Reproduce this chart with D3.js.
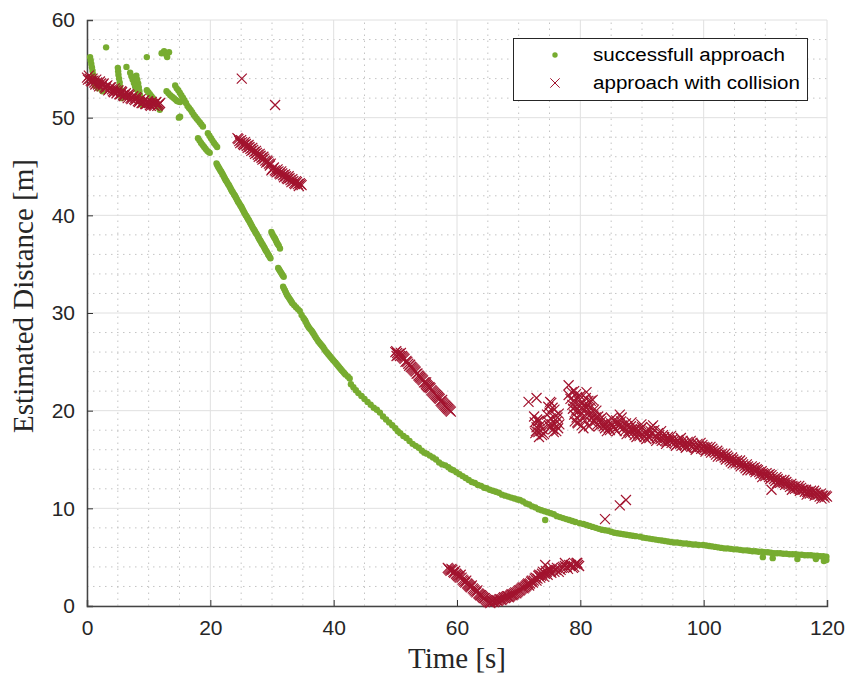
<!DOCTYPE html>
<html>
<head>
<meta charset="utf-8">
<script src="https://cdn.jsdelivr.net/npm/d3@7"></script>
<style>
  body { margin: 0; background: #fff; }
  svg { display: block; }
</style>
</head>
<body>
<div id="chart"></div>
<script>
// axis ticks
var xTicks = [0, 20, 40, 60, 80, 100, 120];
var yTicks = [0, 10, 20, 30, 40, 50, 60];

// successfull approach, [time s, distance m]
var okStart = [[0.5,56.2],[0.7,55.5],[0.9,54.8],[1.1,54.0],[1.3,53.3],[1.8,53.0],[2.5,52.7],[3.1,57.2],
  [5.0,55.1],[5.1,54.4],[5.3,53.6],[5.4,52.8],[5.6,52.0],[6.4,55.2],[7.0,54.6],[7.4,53.9],[7.8,53.2],[8.3,52.6],
  [8.0,54.3],[8.3,53.5],[8.5,52.7],[8.7,51.9],[8.9,51.3],[9.7,56.2],[9.7,52.8],[10.2,52.4],[10.7,52.0],[11.2,51.4],[11.8,50.8],
  [12.1,56.6],[12.5,56.8],[12.9,56.4],[13.3,56.7],[13.0,56.2],[12.9,52.7],[13.5,52.3],[14.1,52.0],[14.6,51.7],[15.1,51.6],
  [14.9,50.0],[15.1,50.1],[14.3,53.3],[14.8,52.8],[15.3,52.3],[15.8,51.8],[16.3,51.2],[16.8,50.8],[17.3,50.3],[17.8,49.9],
  [18.3,49.5],[18.8,49.1],[14.55,53.0],[15.05,52.55],[15.55,52.05],[16.05,51.5],[16.55,51.0],[17.05,50.55],[17.55,50.1],
  [18.05,49.7],[18.55,49.3],[0.6,55.85],[0.8,55.15],[1.0,54.4],[1.2,53.65],[5.05,54.75],[5.2,54.0],[5.35,53.2],[5.5,52.4],
  [7.2,54.25],[7.6,53.55],[8.05,52.9],[8.15,53.9],[8.4,53.1],[8.6,52.3],[8.8,51.6],[9.95,52.6],[10.45,52.2],[10.95,51.7],
  [11.5,51.1],[13.2,52.5],[13.8,52.15],[14.35,51.85],[14.85,51.65]];
var okDashes = [[18.0,47.9],[18.5,47.4],[19.0,47.0],[19.5,46.6],[19.9,46.4],[19.6,48.4],[20.1,47.9],[20.6,47.4],[21.1,47.0],
  [29.9,38.3],[30.2,37.9],[30.5,37.6],[30.8,37.2],[31.1,36.9],[31.3,36.6],[31.0,34.6],[31.3,34.3],[31.6,34.0],[31.9,33.7],
  [18.25,47.65],[18.75,47.2],[19.25,46.8],[19.7,46.5],[19.85,48.15],[20.35,47.65],[20.85,47.2],[30.05,38.1],[30.35,37.75],
  [30.65,37.4],[30.95,37.05],[31.15,34.45],[31.45,34.15],[31.75,33.85]];
var okSteep = [[21.0,45.3],[21.25,45.0],[21.5,44.75],[21.75,44.5],[22.0,44.2],[22.25,43.9],[22.5,43.6],[22.75,43.35],
  [23.0,43.1],[23.25,42.8],[23.5,42.5],[23.75,42.25],[24.0,42.0],[24.25,41.7],[24.5,41.4],[24.75,41.15],[25.0,40.9],
  [25.25,40.6],[25.5,40.3],[25.75,40.0],[26.0,39.75],[26.25,39.5],[26.5,39.2],[26.75,38.9],[27.0,38.6],[27.25,38.35],
  [27.5,38.1],[27.75,37.8],[28.0,37.5],[28.25,37.25],[28.5,37.0],[28.75,36.7],[29.0,36.4],[29.25,36.15],[29.5,35.9],[29.75,35.6],
  [21.12,45.15],[21.37,44.88],[21.62,44.6],[21.87,44.35],[22.12,44.05],[22.37,43.75],[22.62,43.5],[22.87,43.2],[23.12,42.95],
  [23.37,42.65],[23.62,42.4],[23.87,42.1],[24.12,41.85],[24.37,41.55],[24.62,41.3],[24.87,41.0],[25.12,40.75],[25.37,40.45],
  [25.62,40.15],[25.87,39.9],[26.12,39.6],[26.37,39.35],[26.62,39.05],[26.87,38.75],[27.12,38.5],[27.37,38.2],[27.62,37.95],
  [27.87,37.65],[28.12,37.4],[28.37,37.1],[28.62,36.85],[28.87,36.55],[29.12,36.3],[29.37,36.0],[29.62,35.75]];
var okMid = [[31.8,32.7],[32.1,32.3],[32.4,31.9],[32.7,31.6],[33.0,31.3],[33.3,31.0],[33.6,30.8],[33.9,30.6],[34.2,30.4],
  [34.5,30.2],[34.8,29.8],[35.1,29.5],[35.4,29.2],[35.7,28.8],[36.0,28.5],[36.4,28.2],[36.7,27.9],[37.1,27.5],[37.5,27.1],
  [37.9,26.8],[38.3,26.5],[38.7,26.1],[39.1,25.8],[39.5,25.5],[39.9,25.2],[40.3,24.9],[40.7,24.6],[41.1,24.3],[41.5,24.0],
  [41.9,23.7],[42.3,23.5],[42.6,23.3],[42.8,22.7],[43.2,22.4],[43.6,22.1],[44.0,21.8],[44.5,21.5],[45.0,21.2],[45.5,20.9],
  [46.0,20.6],[46.5,20.3],[47.0,20.1],[47.5,19.8],[48.0,19.4],[48.5,19.1],[49.0,18.8],[49.5,18.5],[50.0,18.2],[50.4,17.9],
  [50.8,17.7],[51.3,17.4],[51.8,17.2],[52.3,16.9],[52.8,16.6],[53.3,16.4],[53.8,16.2],[54.3,15.9],[54.7,15.7],[55.1,15.6],
  [55.6,15.4],[56.1,15.2],[56.6,15.0],[57.1,14.7],[57.6,14.5],[58.1,14.4],[58.6,14.2],[59.0,14.0],[59.4,13.9],[59.9,13.7],
  [60.4,13.5],[60.9,13.3],[61.4,13.1],[61.9,12.9],[62.4,12.7],[62.9,12.6],[63.4,12.4],[63.9,12.3],[64.4,12.1],[64.8,12.05],
  [65.3,11.9],[65.8,11.8],[66.3,11.7],[66.8,11.6],[67.3,11.4],[67.8,11.3],[68.3,11.2],[68.8,11.1],[69.3,11.0],[69.8,10.9],
  [31.95,32.5],[32.25,32.1],[32.55,31.75],[32.85,31.45],[33.15,31.15],[35.25,29.35],[35.55,29.0],[35.85,28.65],[36.2,28.35],
  [36.55,28.05],[36.9,27.7],[37.3,27.3],[37.7,26.95],[38.1,26.65],[38.5,26.3],[38.9,25.95],[39.3,25.65],[39.7,25.35],
  [40.1,25.05],[40.5,24.75],[40.9,24.45],[41.3,24.15],[41.7,23.85]];
var okTail = [[70.2,10.85],[70.7,10.7],[71.2,10.5],[71.7,10.4],[72.2,10.2],[72.7,10.1],[73.2,9.9],[73.7,9.8],[74.2,9.7],
  [74.7,9.6],[75.2,9.5],[75.7,9.4],[76.2,9.2],[76.7,9.1],[77.2,9.0],[77.7,8.9],[78.2,8.8],[78.7,8.7],[79.2,8.6],[79.9,8.47],
  [80.5,8.4],[81.0,8.3],[81.5,8.2],[82.0,8.1],[82.5,8.0],[83.0,7.9],[83.5,7.8],[84.0,7.75],[84.5,7.7],[85.0,7.6],[85.5,7.5],
  [86.0,7.45],[86.5,7.4],[87.0,7.35],[87.5,7.3],[88.0,7.25],[88.5,7.2],[89.0,7.15],[89.7,7.1],[90.2,7.0],[90.7,6.95],
  [91.2,6.9],[91.7,6.85],[92.2,6.8],[92.7,6.75],[93.2,6.7],[93.7,6.65],[94.2,6.6],[94.7,6.55],[95.2,6.5],[95.7,6.5],
  [96.2,6.45],[96.7,6.4],[97.2,6.4],[97.7,6.35],[98.2,6.3],[98.7,6.3],[99.2,6.25],[99.9,6.25],[100.4,6.2],[100.9,6.15],
  [101.4,6.1],[101.9,6.05],[102.4,6.0],[102.9,5.95],[103.4,5.9],[103.9,5.9],[104.4,5.85],[104.9,5.8],[105.4,5.8],
  [105.9,5.75],[106.4,5.7],[106.9,5.7],[107.4,5.65],[107.9,5.6],[108.4,5.6],[108.9,5.55],[109.4,5.55],[109.9,5.5],
  [110.4,5.5],[110.9,5.45],[111.4,5.4],[111.9,5.4],[112.4,5.4],[112.9,5.35],[113.4,5.35],[113.9,5.3],[114.4,5.3],
  [114.9,5.3],[115.4,5.25],[115.9,5.25],[116.4,5.2],[116.9,5.2],[117.4,5.2],[117.9,5.15],[118.4,5.15],[118.9,5.1],
  [119.4,5.1],[119.9,5.05]];
var okOutliers = [[74.3,8.8],[109.6,5.0],[111.2,4.9],[115.2,4.8],[118.2,4.8],[119.5,4.6],[119.9,4.7]];

// approach with collision, [time s, distance m]
var colStart = [[0.0,54.1],[0.3,54.3],[0.6,53.8],[0.9,54.0],[1.2,53.6],[1.5,53.9],[1.8,53.4],[2.1,53.7],[2.4,53.2],
  [2.7,53.5],[3.0,53.0],[3.3,53.3],[3.6,52.9],[3.9,53.1],[4.2,52.7],[4.5,53.0],[4.8,52.5],[5.1,52.8],[5.4,52.4],[5.7,52.6],
  [6.0,52.2],[6.3,52.5],[6.6,52.0],[6.9,52.3],[7.2,51.9],[7.5,52.2],[7.8,51.8],[8.1,52.0],[8.4,51.6],[8.7,51.9],[9.0,51.5],
  [9.3,51.8],[9.6,51.4],[9.9,51.7],[10.2,51.3],[10.5,51.6],[10.8,51.3],[11.1,51.5],[11.4,51.2],[11.7,51.4],
  [0.15,53.9],[0.45,54.0],[0.75,53.7],[1.05,53.8],[1.35,53.4],[1.65,53.6],[1.95,53.2],[2.25,53.5],[2.55,53.4],[2.85,53.1],
  [3.15,53.2],[3.45,52.8],[3.75,53.1],[4.05,52.9],[4.35,52.6],[4.65,52.8],[4.95,52.7],[5.25,52.4],[5.55,52.7],[5.85,52.3],
  [6.15,52.4],[6.45,52.2],[6.75,52.4],[7.05,52.0],[7.35,52.1],[7.65,51.9],[7.95,52.1],[8.25,51.7],[8.55,51.8],[8.85,51.5],
  [9.15,51.7],[9.45,51.4],[9.75,51.6],[10.05,51.5],[10.35,51.2],[10.65,51.4],[10.95,51.2],[11.25,51.6],[11.55,51.3],[11.85,51.5]];
var colLone = [[25.1,54.0],[30.5,51.3],[84.0,8.9],[86.4,10.3],[87.4,10.85],[111.0,11.9]];
var colBand25 = [[24.4,47.9],[24.7,47.6],[25.0,47.7],[25.3,47.3],[25.6,47.5],[25.9,47.1],[26.2,47.2],[26.5,46.8],
  [26.8,46.9],[27.1,46.5],[27.4,46.6],[27.7,46.2],[28.0,46.3],[28.3,45.9],[28.6,46.0],[28.9,45.6],[29.2,45.6],[29.5,45.3],
  [29.8,45.3],[30.0,44.7],[30.3,44.9],[30.6,44.5],[30.9,44.7],[31.2,44.3],[31.5,44.5],[31.8,44.1],[32.1,44.2],[32.4,43.8],
  [32.7,44.0],[33.0,43.6],[33.3,43.7],[33.6,43.3],[33.9,43.5],[34.2,43.2],[34.5,43.3],[34.8,43.1],
  [24.55,47.8],[24.85,47.4],[25.15,47.5],[25.45,47.2],[25.75,47.3],[26.05,46.9],[26.35,47.0],[26.65,46.6],[26.95,46.7],
  [27.25,46.3],[27.55,46.4],[27.85,46.0],[28.15,46.1],[28.45,45.7],[28.75,45.8],[29.05,45.4],[29.35,45.5],[29.65,45.1],
  [29.9,44.6],[30.15,44.8],[30.45,44.6],[30.75,44.4],[31.05,44.5],[31.35,44.2],[31.65,44.3],[31.95,43.9],[32.25,44.0],
  [32.55,43.7],[32.85,43.8],[33.15,43.4],[33.45,43.5],[33.75,43.2],[34.05,43.4],[34.35,43.0],[34.65,43.2]];
var colBand50 = [[50.0,26.0],[50.3,25.9],[50.6,25.8],[50.9,25.9],[51.2,25.5],[51.5,25.3],[51.8,25.1],[52.1,24.8],
  [52.4,24.7],[52.7,24.4],[53.0,24.2],[53.3,24.0],[53.6,23.8],[53.9,23.5],[54.2,23.3],[54.5,23.1],[54.8,22.9],[55.1,22.6],
  [55.4,22.4],[55.7,22.3],[56.0,22.0],[56.3,21.8],[56.6,21.6],[56.9,21.4],[57.2,21.2],[57.5,20.9],[57.8,20.7],[58.1,20.5],
  [58.4,20.3],[58.7,20.1],[59.0,19.9],[50.2,25.6],[55.0,22.9],[57.6,21.1],
  [50.15,26.1],[50.45,25.7],[50.75,25.6],[51.05,25.6],[51.35,25.4],[51.65,25.0],[51.95,25.0],[52.25,24.6],[52.55,24.5],
  [52.85,24.3],[53.15,24.1],[53.45,23.8],[53.75,23.6],[54.05,23.4],[54.35,23.2],[54.65,22.9],[54.95,22.7],[55.25,22.5],
  [55.55,22.4],[55.85,22.1],[56.15,21.9],[56.45,21.7],[56.75,21.5],[57.05,21.3],[57.35,21.0],[57.65,20.8],[57.95,20.6],
  [58.25,20.4],[58.55,20.2],[58.85,20.0]];
var colDip = [[58.5,3.9],[58.8,3.7],[59.1,3.8],[59.4,3.5],[59.7,3.6],[60.0,3.2],[60.3,3.0],[60.6,3.2],[60.9,2.7],
  [61.2,2.5],[61.5,2.6],[61.8,2.2],[62.1,2.0],[62.4,2.1],[62.7,1.7],[63.0,1.5],[63.3,1.6],[63.6,1.2],[63.9,1.1],[64.2,0.9],
  [64.5,0.8],[64.8,0.6],[65.1,0.4],[65.4,0.3],[65.7,0.5],[66.0,0.4],[66.3,0.6],[66.6,0.5],[66.9,0.7],[67.2,0.6],[67.5,0.8],
  [67.8,0.8],[68.1,1.0],[68.4,0.9],[68.7,1.1],[69.0,1.1],[69.3,1.3],[69.6,1.3],[69.9,1.5],[70.2,1.6],[70.5,1.8],[70.8,1.8],
  [71.1,2.0],[71.4,2.2],[71.7,2.1],[72.0,2.5],[72.3,2.4],[72.6,2.8],[72.9,2.6],[73.2,3.1],[73.5,2.9],[73.8,3.3],[74.1,3.0],
  [74.4,3.6],[74.7,3.2],[75.0,3.8],[75.3,3.4],[76.0,3.7],[76.5,3.5],[77.0,3.9],[77.5,4.1],[78.0,3.8],[78.5,4.2],[79.0,4.0],
  [79.5,4.4],[79.8,4.1],[74.3,4.2],[79.4,4.4],[77.5,4.4],
  [58.65,3.8],[58.95,3.6],[59.25,3.7],[59.55,3.4],[59.85,3.3],[60.15,3.1],[60.45,2.9],[60.75,2.9],[61.05,2.6],[61.35,2.4],
  [61.65,2.3],[61.95,2.1],[62.25,1.9],[62.55,1.8],[62.85,1.6],[63.15,1.4],[63.45,1.3],[63.75,1.1],[64.05,1.0],[64.35,0.8],
  [64.65,0.7],[64.95,0.5],[65.25,0.4],[65.55,0.4],[65.85,0.5],[66.15,0.5],[66.45,0.6],[66.75,0.6],[67.05,0.7],[67.35,0.7],
  [67.65,0.9],[67.95,0.9],[68.25,1.0],[68.55,1.0],[68.85,1.2],[69.15,1.2],[69.45,1.4],[69.75,1.4],[70.05,1.6],[70.35,1.7],
  [70.65,1.9],[70.95,1.9],[71.25,2.1],[71.55,2.3],[71.85,2.3],[72.15,2.6],[72.45,2.6],[72.75,2.9],[73.05,2.8],[73.35,3.2],
  [73.65,3.1],[73.95,3.5],[74.25,3.3],[74.55,3.5],[74.85,3.6],[75.15,3.6],[75.5,3.9],[75.8,3.5],[76.2,3.9],[76.8,3.7],
  [77.2,4.0],[77.8,4.0],[78.2,4.2],[78.8,3.9],[79.2,4.3],[79.6,4.2]];
var colCluster = [[71.6,20.9],[72.9,21.3],[75.1,20.9],[72.6,18.8],[72.9,18.3],[73.2,17.8],[73.5,18.5],[73.8,17.5],
  [73.0,19.1],[73.4,19.0],[73.9,18.1],[72.7,17.7],[74.1,17.6],[74.8,20.4],[75.0,19.8],[75.2,19.2],[75.4,18.6],[75.6,18.1],
  [75.8,20.1],[76.0,19.5],[76.2,18.9],[76.4,18.2],[74.9,18.5],[75.3,20.8],[76.5,19.7],[75.7,17.8],
  [78.1,22.6],[78.1,21.6],[81.0,21.9],[78.6,21.9],[78.9,21.0],[79.2,20.4],[79.5,21.4],[79.8,20.0],[79.4,19.3],[79.1,18.9],
  [80.1,19.6],[80.4,20.8],[80.7,19.0],[81.0,20.3],[81.3,21.0],[81.6,19.6],[81.9,18.8],[82.2,20.1],[82.5,19.3],[82.8,18.6],
  [83.1,19.1],[79.6,18.7],[80.2,18.5],[80.9,21.3],[82.0,21.1],[78.8,20.2],[81.4,18.4],
  [78.4,21.2],[78.7,20.6],[79.0,22.0],[79.3,21.7],[79.7,21.0],[79.9,20.6],[80.0,21.5],[80.3,20.1],[80.6,20.5],[80.8,19.4],
  [81.1,19.8],[81.2,20.6],[81.5,20.3],[81.8,19.2],[82.1,19.5],[82.4,18.9],[82.6,20.0],[82.9,19.4],[83.0,18.4],[79.0,19.6],
  [79.3,20.0],[79.5,18.8],[80.5,18.2],[81.7,21.0],[72.8,17.9],[73.1,18.9],[73.6,17.9],[73.3,17.3],[72.5,19.4],[74.6,19.6],
  [74.7,18.9],[75.1,18.3],[75.5,20.3],[75.9,18.6],[76.3,19.3],[76.1,17.9],[76.6,18.6]];
var colTail = [[83.4,18.9],[83.8,18.4],[84.2,18.8],[84.6,18.2],[85.0,18.7],[85.4,18.3],[85.8,19.0],[86.2,18.4],[86.4,19.6],
  [86.6,18.9],[87.0,18.2],[87.4,18.7],[87.8,17.9],[88.2,18.4],[88.6,17.8],[89.0,18.2],[89.4,17.6],[89.8,18.1],[90.2,17.5],
  [90.6,17.9],[91.0,17.4],[91.4,17.9],[91.8,18.5],[92.2,17.4],[92.6,17.7],[93.0,17.1],[93.4,17.5],[93.8,16.9],[94.2,17.3],
  [94.6,16.9],[95.0,17.1],[95.4,16.7],[95.8,17.0],[96.2,16.6],[96.6,16.9],[97.0,16.5],[97.4,16.8],[97.8,16.5],[98.2,16.7],
  [98.6,16.4],[99.0,16.6],[99.4,16.3],[99.8,16.5],[100.2,16.2],[100.6,16.3],[101.0,15.9],[101.4,16.1],[101.8,15.7],
  [102.2,15.9],[102.6,15.5],[103.0,15.6],[103.4,15.2],[103.8,15.4],[104.2,15.0],[104.6,15.2],[105.0,14.8],[105.4,14.9],
  [105.8,14.5],[106.2,14.7],[106.6,14.3],[107.0,14.5],[107.4,14.1],[107.8,14.3],[108.2,13.9],[108.6,14.0],[109.0,13.7],
  [109.4,13.8],[109.8,13.5],[110.2,13.6],[110.6,13.2],[111.0,13.4],[111.4,13.0],[111.8,13.2],[112.2,12.8],[112.6,12.9],
  [113.0,12.6],[113.4,12.7],[113.8,12.4],[114.2,12.5],[114.6,12.2],[115.0,12.3],[115.4,12.0],[115.8,12.1],[116.2,11.9],
  [116.6,11.9],[117.0,11.7],[117.4,11.8],[117.8,11.5],[118.2,11.6],[118.6,11.4],[119.0,11.5],[119.4,11.3],[119.8,11.3],
  [120.0,11.2],
  [83.6,18.6],[84.0,18.2],[84.4,18.5],[84.8,18.0],[85.2,18.5],[85.6,18.1],[86.0,18.7],[86.8,18.5],[87.2,17.9],[87.6,18.4],
  [88.0,17.7],[88.4,18.1],[88.8,17.5],[89.2,17.9],[89.6,17.4],[90.0,18.3],[90.4,17.3],[90.8,17.7],[91.2,17.2],[91.6,17.6],
  [92.0,18.0],[92.4,17.2],[92.8,17.5],[93.2,16.9],[93.6,17.3],[94.0,16.8],[94.4,17.0],[94.8,16.7],[95.2,16.9],[95.6,16.5],
  [96.0,16.8],[96.4,16.4],[96.8,16.7],[97.2,16.3],[97.6,16.6],[98.0,16.3],[98.4,16.5],[98.8,16.2],[99.2,16.4],[99.6,16.1],
  [100.0,16.3],[100.4,16.0],[100.8,16.1],[101.2,15.7],[101.6,15.9],[102.0,15.5],[102.4,15.7],[102.8,15.3],[103.2,15.4],
  [103.6,15.0],[104.0,15.2],[104.4,14.8],[104.8,15.0],[105.2,14.6],[105.6,14.7],[106.0,14.3],[106.4,14.5],[106.8,14.1],
  [107.2,14.3],[107.6,13.9],[108.0,14.1],[108.4,13.7],[108.8,13.9],[109.2,13.5],[109.6,13.6],[110.0,13.3],[110.4,13.4],
  [110.8,13.0],[111.2,13.2],[111.6,12.8],[112.0,13.0],[112.4,12.6],[112.8,12.7],[113.2,12.4],[113.6,12.5],[114.0,12.2],
  [114.4,12.3],[114.8,12.0],[115.2,12.1],[115.6,11.8],[116.0,11.9],[116.4,11.7],[116.8,11.7],[117.2,11.5],[117.6,11.6],
  [118.0,11.3],[118.4,11.4],[118.8,11.2],[119.2,11.3],[119.6,11.1],
  [83.5,19.3],[84.3,17.9],[85.1,19.2],[85.9,17.9],[86.7,19.3],[87.5,17.6],[88.3,18.8],[89.1,17.3],[89.9,18.6],[90.7,17.1],
  [91.5,18.3],[92.3,16.9],[93.1,17.9],[93.9,16.6],[94.7,17.4],[95.5,16.4],[96.3,17.2],[97.1,16.2],[97.9,16.9],[98.7,16.0],
  [99.5,16.7],[100.3,15.8],[101.1,16.3],[102.3,15.3],[103.5,15.6],[104.7,14.6],[105.9,14.9],[107.1,13.9],[108.3,14.2],
  [109.5,13.2],[110.7,13.5],[111.9,12.6],[113.1,12.9],[114.3,11.9],[115.5,12.3],[116.7,11.4],[117.9,11.8],[119.1,11.0]];

var GREEN = "#77ac30", RED = "#a2142f";

var W = 855, H = 674;
var margin = {top: 20, right: 28, bottom: 68, left: 87};

var svg = d3.select("#chart").append("svg")
    .attr("width", W)
    .attr("height", H);

var x = d3.scaleLinear().domain([0, 120]).range([margin.left, W - margin.right]);
var y = d3.scaleLinear().domain([0, 60]).range([H - margin.bottom, margin.top]);

// minor grid (dotted)
var minorX = d3.range(5, 120, 5).filter(function(v){ return v % 20 != 0; });
var minorY = d3.range(2, 60, 2).filter(function(v){ return v % 10 != 0; });
var grid = svg.append("g");
grid.selectAll(".mx").data(minorX).enter().append("line")
    .attr("x1", d => x(d)).attr("x2", d => x(d))
    .attr("y1", y(0)).attr("y2", y(60))
    .attr("stroke", "#c4c4c4").attr("stroke-dasharray", "1.5,4.5");
grid.selectAll(".my").data(minorY).enter().append("line")
    .attr("x1", x(0)).attr("x2", x(120))
    .attr("y1", d => y(d)).attr("y2", d => y(d))
    .attr("stroke", "#c4c4c4").attr("stroke-dasharray", "1.5,4.5");
// major grid
grid.selectAll(".gx").data(xTicks).enter().append("line")
    .attr("x1", d => x(d)).attr("x2", d => x(d))
    .attr("y1", y(0)).attr("y2", y(60))
    .attr("stroke", "#e0e0e0");
grid.selectAll(".gy").data(yTicks).enter().append("line")
    .attr("x1", x(0)).attr("x2", x(120))
    .attr("y1", d => y(d)).attr("y2", d => y(d))
    .attr("stroke", "#e0e0e0");

// axes
var xAxis = svg.append("g")
    .attr("transform", "translate(0," + y(0) + ")")
    .call(d3.axisBottom(x).tickValues(xTicks).tickSize(-6).tickPadding(14));
var yAxis = svg.append("g")
    .attr("transform", "translate(" + x(0) + ",0)")
    .call(d3.axisLeft(y).tickValues(yTicks).tickSize(-6).tickPadding(12));
[xAxis, yAxis].forEach(function(ax){
    ax.select(".domain").attr("stroke", "#444").attr("stroke-width", 1.5);
    ax.selectAll(".tick line").attr("stroke", "#333");
    ax.selectAll(".tick text")
        .attr("font-family", "'Liberation Sans', Arial, sans-serif")
        .attr("font-size", 21).attr("fill", "#262626");
});
xAxis.selectAll(".tick").filter(d => d == 0 || d == 120).select("line").remove();
yAxis.selectAll(".tick").filter(d => d == 0 || d == 60).select("line").remove();

// successfull approach dots
var okAll = [].concat(okStart, okDashes, okSteep, okMid, okTail, okOutliers);
svg.append("g").selectAll("circle")
    .data(okAll).enter().append("circle")
    .attr("cx", d => x(d[0]))
    .attr("cy", d => y(d[1]))
    .attr("r", 3.2)
    .attr("fill", GREEN);

// approach with collision crosses
function crossPath(h){
    return "M" + (-h) + "," + (-h) + "L" + h + "," + h + "M" + (-h) + "," + h + "L" + h + "," + (-h);
}
var colAll = [].concat(colStart, colLone, colBand25, colBand50, colDip, colCluster, colTail);
svg.append("g").selectAll("path")
    .data(colAll).enter().append("path")
    .attr("transform", d => "translate(" + x(d[0]) + "," + y(d[1]) + ")")
    .attr("d", crossPath(5))
    .attr("fill", "none")
    .attr("stroke", RED)
    .attr("stroke-width", 1.2);

// axis labels
svg.append("text")
    .attr("x", (x(0) + x(120)) / 2)
    .attr("y", 668)
    .attr("text-anchor", "middle")
    .attr("font-family", "'Liberation Serif', 'DejaVu Serif', serif")
    .attr("font-size", 29).attr("fill", "#262626")
    .text("Time [s]");
svg.append("text")
    .attr("transform", "translate(33," + 296 + ") rotate(-90)")
    .attr("text-anchor", "middle")
    .attr("font-family", "'Liberation Serif', 'DejaVu Serif', serif")
    .attr("font-size", 29).attr("fill", "#262626")
    .text("Estimated Distance [m]");

// legend
var legend = svg.append("g");
legend.append("rect")
    .attr("x", 513.5).attr("y", 38.5).attr("width", 294).attr("height", 62)
    .attr("fill", "#fff").attr("stroke", "#262626").attr("stroke-width", 1);
legend.append("circle").attr("cx", 555).attr("cy", 55).attr("r", 2.7).attr("fill", GREEN);
legend.append("path").attr("transform", "translate(555,83)").attr("d", crossPath(4.7))
    .attr("stroke", RED).attr("fill", "none");
var legendLabels = ["successfull approach", "approach with collision"];
var legendWidths = [192, 207];
legend.selectAll(".lt").data(legendLabels).enter().append("text")
    .attr("x", 593).attr("y", (d, i) => 61 + i * 28)
    .attr("font-family", "'Liberation Sans', Arial, sans-serif")
    .attr("font-size", 18).attr("fill", "#000")
    .attr("textLength", (d, i) => legendWidths[i])
    .attr("lengthAdjust", "spacingAndGlyphs")
    .text(d => d);
</script>
</body>
</html>
